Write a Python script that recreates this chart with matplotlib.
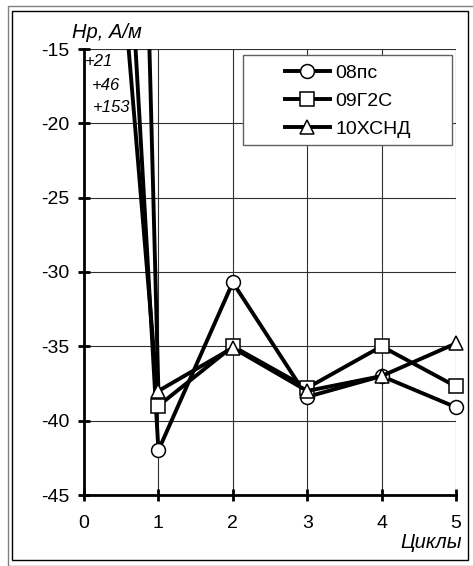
import matplotlib
matplotlib.use('Agg')
import matplotlib.pyplot as plt
from matplotlib.patches import Rectangle

plt.rcParams['font.family'] = ['Liberation Sans', 'DejaVu Sans']
plt.rcParams['axes.unicode_minus'] = False

# cycles and coercive force values
cycles = [0, 1, 2, 3, 4, 5]
hr_08ps = [46, -42, -30.7, -38.4, -37.0, -39.1]
hr_09g2s = [21, -39, -35.0, -37.8, -35.0, -37.7]
hr_10khsnd = [153, -38, -35.1, -38.0, -37.0, -34.8]
series_names = ['08пс', '09Г2С', '10ХСНД']
start_labels = ['+21', '+46', '+153']

W, H = 473, 566
fig = plt.figure(figsize=(W / 100, H / 100), dpi=100)

# double frame around the picture
fig.add_artist(Rectangle((8 / W, 0), 1.0, 1 - 6 / H, transform=fig.transFigure,
                         fill=False, ec='#808080', lw=1.0))
fig.add_artist(Rectangle((12 / W, 6 / H), (468 - 12) / W, (560 - 11) / H,
                         transform=fig.transFigure, fill=False, ec='black', lw=1.0))

ax = fig.add_axes([84 / W, 1 - 495 / H, (456 - 84) / W, (495 - 49) / H])

# clip only at the top so the markers on the right edge stay whole
clip = Rectangle((-0.1, -0.1), 1.2, 1.1, transform=ax.transAxes, visible=False)
ax.add_patch(clip)

style = dict(color='black', lw=2.8, markersize=10, markerfacecolor='white',
             markeredgecolor='black', markeredgewidth=1.1)
for ys, mk, name in zip([hr_08ps, hr_09g2s, hr_10khsnd], ['o', 's', '^'], series_names):
    ln, = ax.plot(cycles, ys, marker=mk, label=name, **style)
    ln.set_clip_path(clip)

ax.set_xlim(0, 5)
ax.set_ylim(-45, -15)
ax.set_xticks(range(0, 6))
ax.set_yticks(range(-45, -14, 5))
ax.grid(True, color='#303030', lw=0.8)
ax.set_axisbelow(True)

for side in ['top', 'right']:
    ax.spines[side].set_visible(False)
for side in ['left', 'bottom']:
    ax.spines[side].set_linewidth(2)
ax.tick_params(direction='inout', length=9, width=2, labelsize=14)
ax.tick_params(axis='x', pad=10)
ax.tick_params(axis='y', pad=6)

fig.text(72 / W, 1 - 32 / H, 'Нр, А/м', fontsize=14.5, style='italic', ha='left', va='center')
fig.text(462 / W, 1 - 543 / H, 'Циклы', fontsize=14.5, style='italic', ha='right', va='center')

for lbl, (xp, yp) in zip(start_labels, [(85, 62), (92, 85), (93, 107)]):
    fig.text(xp / W, 1 - yp / H, lbl, fontsize=12, style='italic', ha='left', va='center')

# legend box
fig.add_artist(Rectangle((243 / W, 1 - 145 / H), (452 - 243) / W, 90 / H,
                         transform=fig.transFigure, fc='white', ec='#606060', lw=1.0,
                         zorder=5))
leg = fig.legend(loc='center left', bbox_to_anchor=(285 / W, 1 - 101 / H), fontsize=14,
                 frameon=False, handlelength=2.3, borderpad=0, borderaxespad=0,
                 labelspacing=0.53, handletextpad=0.3)
leg.set_zorder(6)

fig.savefig('out.png', dpi=100)
